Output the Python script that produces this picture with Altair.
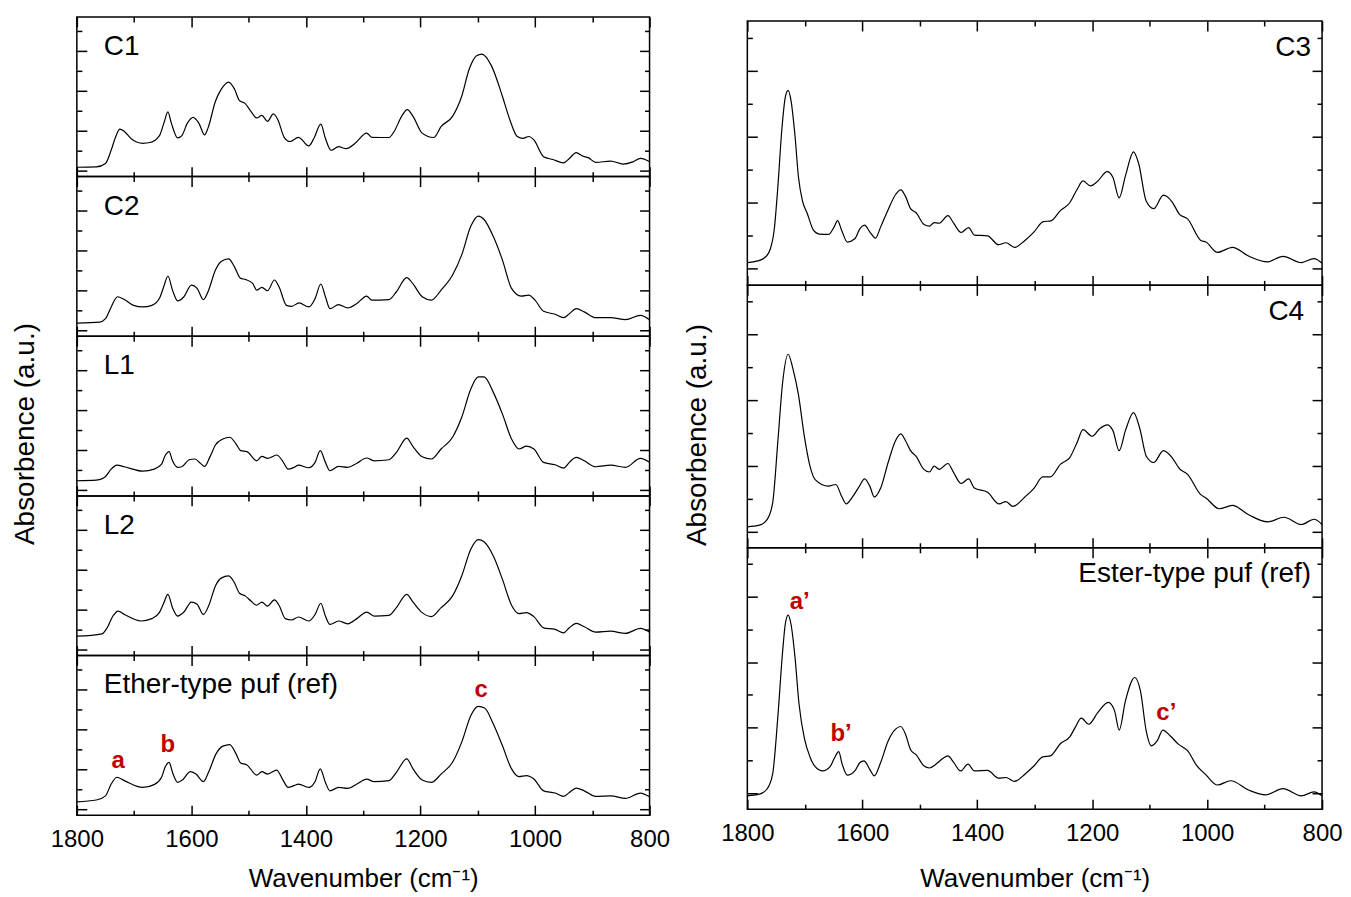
import altair as alt
import pandas as pd

FONT = "Liberation Sans, Arial, Helvetica, sans-serif"
RED = "#c00000"

# ---------------- tick values / labels ----------------
x_major = [1800, 1600, 1400, 1200, 1000, 800]
x_minor = [1700, 1500, 1300, 1100, 900]
y_major = [0, 2, 4, 6]
y_minor = [1, 3, 5, 7]
x_title = "Wavenumber (cm\u207b\u00b9)"
y_title = "Absorbence (a.u.)"

left_names = ["C1", "C2", "L1", "L2", "Ether-type puf (ref)"]
right_names = ["C3", "C4", "Ester-type puf (ref)"]

# ---------------- spectra ----------------
c1_wn = [1800,1766,1750,1740,1732,1725,1717,1704,1685,1672,1656,1648,1641,1635,1624,1617,1607,1597,1587,1577,
         1571,1558,1548,1535,1525,1516,1506,1496,1486,1477,1467,1457,1449,1438,1428,1413,1395,1386,1374,1366,
         1356,1343,1330,1314,1294,1285,1255,1246,1233,1223,1213,1197,1177,1164,1144,1128,1115,1102,1093,1076,
         1057,1044,1031,1021,1011,1002,985,969,950,940,928,917,907,894,868,846,829,816,800]
c1_ab = [0.19,0.21,0.38,1.05,1.73,2.10,1.98,1.59,1.39,1.43,1.76,2.40,2.96,2.40,1.66,1.76,2.40,2.69,2.40,1.81,
         2.15,3.50,4.09,4.46,4.12,3.53,3.38,2.99,2.66,2.79,2.49,2.86,2.57,1.69,1.48,1.69,1.26,1.64,2.35,1.64,
         1.04,1.22,1.12,1.39,1.90,1.69,1.68,1.98,2.74,3.08,2.74,1.90,1.68,2.23,2.74,3.75,5.10,5.78,5.86,5.27,
         3.75,2.57,1.73,1.64,1.73,1.56,0.72,0.58,0.41,0.63,0.92,0.75,0.67,0.43,0.50,0.35,0.46,0.63,0.46]

c2_wn = [1800,1760,1750,1740,1729,1717,1701,1685,1669,1656,1648,1641,1633,1624,1613,1600,1590,1579,1571,1558,
         1548,1535,1525,1514,1506,1493,1486,1477,1467,1455,1447,1434,1425,1412,1395,1384,1374,1366,1358,1343,
         1327,1311,1294,1285,1255,1242,1224,1213,1197,1181,1164,1144,1128,1112,1099,1089,1073,1057,1041,1024,
         1011,1000,985,965,950,940,928,914,894,868,842,816,800]
c2_ab = [0.38,0.43,0.60,1.19,1.70,1.56,1.27,1.19,1.27,1.61,2.23,2.74,2.03,1.49,1.70,2.28,2.12,1.56,1.95,3.04,
         3.47,3.60,3.21,2.62,2.57,2.37,2.03,2.17,2.00,2.54,2.20,1.27,1.22,1.39,1.19,1.61,2.34,1.70,1.10,1.31,
         1.14,1.36,1.73,1.53,1.56,1.95,2.66,2.34,1.70,1.53,2.03,2.79,3.80,5.24,5.74,5.57,4.73,3.55,2.12,1.73,
         1.78,1.53,0.97,0.82,0.65,0.85,1.10,0.94,0.65,0.65,0.55,0.77,0.55]

l1_wn = [1800,1766,1752,1740,1730,1717,1685,1665,1652,1646,1639,1633,1624,1617,1604,1594,1584,1577,1568,1558,
         1545,1533,1522,1514,1503,1486,1477,1467,1451,1441,1431,1421,1413,1395,1384,1375,1366,1358,1343,1327,
         1311,1294,1281,1255,1242,1224,1213,1197,1181,1164,1144,1128,1112,1099,1089,1073,1057,1041,1028,1015,
         1002,985,965,950,940,928,914,894,868,842,816,800]
l1_ab = [0.48,0.51,0.64,1.06,1.26,1.18,0.96,1.06,1.31,1.73,1.94,1.48,1.15,1.18,1.53,1.57,1.35,1.20,1.65,2.27,
         2.57,2.66,2.32,1.99,1.94,1.48,1.70,1.60,1.77,1.48,1.06,1.15,1.26,1.13,1.40,1.99,1.40,0.98,1.20,1.15,
         1.36,1.62,1.48,1.53,1.90,2.62,2.19,1.68,1.57,2.07,2.66,3.66,5.09,5.68,5.68,4.92,3.83,2.57,2.07,2.21,
         2.07,1.40,1.28,1.11,1.40,1.65,1.48,1.18,1.26,1.15,1.60,1.40]

l2_wn = [1800,1756,1747,1737,1728,1717,1688,1669,1656,1648,1641,1633,1624,1613,1600,1590,1579,1570,1558,1548,
         1535,1525,1516,1506,1496,1486,1477,1467,1455,1447,1436,1425,1413,1395,1384,1374,1366,1358,1343,1327,
         1311,1294,1281,1255,1242,1224,1213,1197,1181,1164,1144,1128,1112,1099,1089,1073,1057,1041,1028,1015,
         1002,985,965,950,940,928,914,894,868,842,816,800]
l2_ab = [0.69,0.81,1.11,1.70,1.95,1.78,1.45,1.57,1.87,2.37,2.79,2.12,1.70,1.90,2.40,2.29,1.78,2.20,3.21,3.60,
         3.71,3.38,2.84,2.71,2.45,2.24,2.40,2.20,2.51,2.24,1.57,1.50,1.65,1.45,1.78,2.34,1.70,1.28,1.45,1.31,
         1.57,1.90,1.70,1.73,2.12,2.79,2.40,1.87,1.67,2.12,2.71,3.71,5.06,5.53,5.42,4.72,3.55,2.24,1.82,1.87,
         1.67,1.11,1.03,0.86,1.11,1.33,1.16,0.89,0.94,0.83,1.08,0.89]

ether_wn = [1800,1766,1750,1740,1730,1717,1685,1665,1652,1646,1639,1632,1624,1615,1602,1592,1579,1570,1557,1545,
            1533,1522,1514,1503,1486,1477,1467,1451,1441,1431,1421,1413,1395,1384,1375,1366,1358,1343,1327,1311,
            1294,1281,1255,1242,1224,1213,1197,1181,1164,1144,1128,1112,1099,1088,1073,1057,1041,1028,1015,1002,
            985,965,950,940,928,914,894,868,842,816,800]
ether_ab = [0.39,0.48,0.69,1.28,1.62,1.45,1.11,1.25,1.62,2.12,2.37,1.78,1.36,1.50,1.90,1.78,1.40,1.87,2.79,3.18,
            3.26,2.79,2.34,2.24,1.73,1.90,1.78,1.98,1.53,1.11,1.20,1.28,1.11,1.41,2.04,1.36,0.94,1.11,1.06,1.28,
            1.53,1.40,1.45,1.87,2.54,2.04,1.48,1.36,1.78,2.37,3.38,4.72,5.17,5.09,4.30,3.21,2.04,1.65,1.70,1.53,
            0.94,0.83,0.66,0.86,1.08,0.94,0.66,0.69,0.56,0.83,0.64]

c3_wn = [1800,1782,1769,1760,1753,1747,1740,1734,1729,1724,1717,1711,1704,1696,1685,1675,1659,1649,1643,1636,
         1626,1613,1604,1596,1587,1577,1568,1555,1542,1533,1525,1516,1506,1493,1483,1475,1466,1451,1441,1428,
         1415,1405,1382,1363,1350,1335,1317,1301,1285,1272,1255,1239,1226,1216,1203,1190,1174,1164,1153,1142,
         1128,1119,1106,1093,1076,1061,1048,1034,1011,1002,982,956,927,895,868,836,814,800]
c3_ab = [0.19,0.24,0.35,0.60,1.22,2.46,4.21,5.19,5.40,5.09,4.01,2.77,2.05,1.69,1.17,1.05,1.04,1.27,1.46,1.17,
         0.81,0.91,1.22,1.32,1.12,0.93,1.27,1.79,2.25,2.39,2.20,1.82,1.69,1.35,1.29,1.40,1.38,1.61,1.38,1.10,
         1.25,1.02,1.00,0.73,0.79,0.65,0.86,1.12,1.43,1.45,1.77,2.00,2.41,2.66,2.51,2.66,2.94,2.77,2.15,2.82,
         3.54,3.18,2.05,1.82,2.23,2.03,1.65,1.51,0.86,0.81,0.50,0.65,0.38,0.21,0.38,0.19,0.31,0.17]

c4_wn = [1800,1779,1766,1756,1747,1739,1729,1721,1711,1701,1691,1682,1659,1646,1636,1628,1617,1605,1596,1587,
         1579,1568,1555,1542,1533,1525,1516,1506,1493,1483,1475,1466,1451,1441,1428,1415,1405,1382,1362,1350,
         1338,1317,1301,1286,1273,1255,1239,1226,1216,1200,1187,1174,1164,1153,1142,1128,1117,1106,1093,1076,
         1061,1048,1034,1011,1002,979,956,927,895,866,836,814,800]
c4_ab = [0.14,0.19,0.35,0.86,2.72,4.47,5.40,4.98,4.16,2.92,1.99,1.58,1.38,1.43,1.07,0.84,1.05,1.38,1.60,1.38,
         1.05,1.32,2.10,2.77,2.97,2.77,2.46,2.28,1.89,1.81,1.99,1.89,2.07,1.79,1.46,1.60,1.32,1.19,0.84,0.91,
         0.76,1.05,1.32,1.66,1.66,2.05,2.25,2.72,3.10,2.90,3.13,3.25,3.08,2.46,3.08,3.62,3.13,2.30,2.10,2.46,
         2.25,1.91,1.74,1.12,1.02,0.69,0.79,0.50,0.29,0.43,0.21,0.37,0.21]

ester_wn = [1800,1779,1766,1756,1747,1739,1734,1729,1724,1717,1710,1701,1691,1682,1669,1656,1648,1641,1635,1626,
            1613,1604,1597,1587,1579,1568,1555,1542,1533,1525,1516,1506,1493,1483,1473,1460,1451,1441,1429,1416,
            1405,1382,1363,1350,1335,1317,1301,1286,1273,1255,1239,1229,1219,1206,1190,1172,1161,1153,1142,1126,
            1116,1106,1097,1087,1077,1064,1050,1034,1018,1002,982,959,927,898,868,836,814,800]
ester_ab = [-0.09,-0.04,0.11,0.57,2.31,4.24,5.16,5.44,5.16,4.14,2.71,1.69,1.10,0.80,0.67,0.80,1.08,1.26,0.88,0.54,
            0.67,0.93,0.98,0.72,0.52,0.93,1.59,1.95,2.03,1.80,1.32,1.16,0.83,0.76,0.86,1.05,1.13,0.93,0.67,0.88,
            0.67,0.69,0.45,0.47,0.35,0.57,0.83,1.10,1.13,1.51,1.71,2.02,2.29,2.10,2.46,2.77,2.51,1.92,2.82,3.53,
            3.12,1.90,1.44,1.59,1.92,1.74,1.49,1.29,0.83,0.55,0.24,0.37,0.08,-0.06,0.13,-0.09,0.03,-0.09]

# peak annotations
ether_ann_text = ["a", "b", "c"]
ether_ann_wn = [1728, 1641, 1094]
ether_ann_ab = [2.42, 3.22, 5.97]
ester_ann_text = ["a\u2019", "b\u2019", "c\u2019"]
ester_ann_wn = [1709, 1637, 1071]
ester_ann_ab = [5.85, 1.79, 2.43]

# ---------------- layout ----------------
LEFT_W = 574
LEFT_H = [160, 160, 160, 160, 160]
RIGHT_W = 576
RIGHT_TOP_GAP = 4
RIGHT_H = [265, 263, 262]
LEFT_DOMAIN = [-0.28, 7.72]
RIGHT_DOMAIN = [-0.5, 7.5]


def make_axis(orient, values, size, labels=False, title=None, title_pad=20):
    kw = dict(orient=orient, values=values, tickSize=size, offset=-size, domain=False,
              grid=False, labels=labels, ticks=True, tickColor="black", tickWidth=1.5)
    if labels:
        kw.update(labelFontSize=24, labelFont=FONT, labelColor="black", labelPadding=12,
                  labelAngle=0, labelFlush=False, labelOverlap=False, format="d")
    if title:
        kw.update(title=title, titleFontSize=26, titleFont=FONT, titleFontWeight="normal",
                  titleColor="black", titlePadding=title_pad)
    else:
        kw["title"] = None
    return alt.Axis(**kw)


def panel(wn, ab, name, width, height, ydom, bottom, label_x, label_y, label_align,
          ann=None, ytitle_pos=None, title_pad=20):
    assert len(wn) == len(ab), name
    df = pd.DataFrame({"wn": wn, "ab": ab})
    df["i"] = range(len(df))
    xs = alt.Scale(domain=[800, 1800], reverse=True, nice=False, zero=False)
    ys = alt.Scale(domain=ydom, nice=False, zero=False)
    base = alt.Chart(df)

    line = base.mark_line(color="black", strokeWidth=1.2, interpolate="monotone", clip=True).encode(
        x=alt.X("wn:Q", scale=xs, axis=make_axis("bottom", x_major, 10, labels=bottom,
                                                  title=x_title if bottom else None,
                                                  title_pad=title_pad)),
        y=alt.Y("ab:Q", scale=ys, axis=make_axis("left", y_major, 10)),
        order=alt.Order("i:Q"),
    )
    ax2 = base.mark_line(opacity=0).encode(
        x=alt.X("wn:Q", scale=xs, axis=make_axis("bottom", x_minor, 5)),
        y=alt.Y("ab:Q", scale=ys, axis=make_axis("left", y_minor, 5)),
    )
    ax3 = base.mark_line(opacity=0).encode(
        x=alt.X("wn:Q", scale=xs, axis=make_axis("top", x_major, 10)),
        y=alt.Y("ab:Q", scale=ys, axis=make_axis("right", y_major, 10)),
    )
    ax4 = base.mark_line(opacity=0).encode(
        x=alt.X("wn:Q", scale=xs, axis=make_axis("top", x_minor, 5)),
        y=alt.Y("ab:Q", scale=ys, axis=make_axis("right", y_minor, 5)),
    )
    lab = alt.Chart(pd.DataFrame({"t": [name]})).mark_text(
        align=label_align, baseline="alphabetic", fontSize=28, font=FONT, color="black"
    ).encode(x=alt.value(label_x), y=alt.value(label_y), text="t:N")
    layers = [line, ax2, ax3, ax4, lab]
    if ann is not None:
        adf = pd.DataFrame({"wn": ann[1], "ab": ann[2], "t": ann[0]})
        red = alt.Chart(adf).mark_text(
            color=RED, fontWeight="bold", fontSize=24, font=FONT, align="center", baseline="middle"
        ).encode(
            x=alt.X("wn:Q", scale=xs, axis=None),
            y=alt.Y("ab:Q", scale=ys, axis=None),
            text="t:N",
        )
        layers.append(red)
    if ytitle_pos is not None:
        yt = alt.Chart(pd.DataFrame({"t": [y_title]})).mark_text(
            angle=270, fontSize=28, font=FONT, color="black", align="center", baseline="middle"
        ).encode(x=alt.value(ytitle_pos[0]), y=alt.value(ytitle_pos[1]), text="t:N")
        layers.append(yt)
    return alt.layer(*layers).properties(width=width, height=height).resolve_axis(
        x="independent", y="independent"
    )


left_series = [(c1_wn, c1_ab), (c2_wn, c2_ab), (l1_wn, l1_ab), (l2_wn, l2_ab), (ether_wn, ether_ab)]
left_panels = []
for k, ((w, a), nm) in enumerate(zip(left_series, left_names)):
    left_panels.append(panel(
        w, a, nm, LEFT_W, LEFT_H[k], LEFT_DOMAIN, bottom=(k == 4),
        label_x=27, label_y=38, label_align="left",
        ann=(ether_ann_text, ether_ann_wn, ether_ann_ab) if k == 4 else None,
        ytitle_pos=(-51, 98) if k == 2 else None,
        title_pad=14,
    ))

right_series = [(c3_wn, c3_ab), (c4_wn, c4_ab), (ester_wn, ester_ab)]
right_lx = [RIGHT_W - 11, RIGHT_W - 18, RIGHT_W - 11]
right_ly = [35, 35, 34]
right_panels = []
for k, ((w, a), nm) in enumerate(zip(right_series, right_names)):
    right_panels.append(panel(
        w, a, nm, RIGHT_W, RIGHT_H[k], RIGHT_DOMAIN, bottom=(k == 2),
        label_x=right_lx[k], label_y=right_ly[k], label_align="right",
        ann=(ester_ann_text, ester_ann_wn, ester_ann_ab) if k == 2 else None,
        ytitle_pos=(-49, 150) if k == 1 else None,
        title_pad=20,
    ))

# small blank strip so the right column starts a little lower, as in the figure
spacer = alt.Chart(pd.DataFrame({"t": [""]})).mark_text().encode(text="t:N").properties(
    width=RIGHT_W, height=RIGHT_TOP_GAP, view=alt.ViewBackground(stroke="transparent")
)

left_col = alt.vconcat(*left_panels, spacing=0, bounds="flush")
right_col = alt.vconcat(spacer, *right_panels, spacing=0, bounds="flush")

chart = alt.hconcat(left_col, right_col, spacing=13).properties(
    padding={"left": 3, "top": 3, "right": 0, "bottom": 0},
    background="white",
).configure_view(stroke="black", strokeWidth=1.5).configure_text(font=FONT)

chart.save("out.html", embed_options={"renderer": "svg", "actions": False})
